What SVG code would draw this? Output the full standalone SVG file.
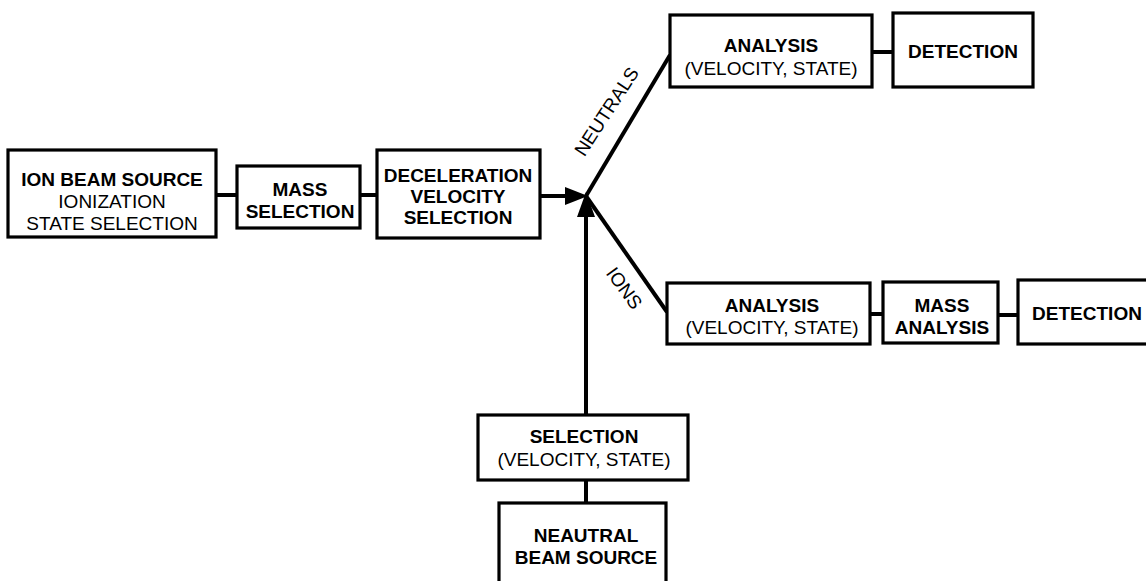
<svg xmlns="http://www.w3.org/2000/svg" width="1146" height="581" viewBox="0 0 1146 581">
<style>
  .box { fill: #fff; stroke: #000; stroke-width: 3.2; }
  .b { font-family: "Liberation Sans", Arial, sans-serif; font-size: 19px; font-weight: bold; text-anchor: middle; fill: #000; }
  .r { font-family: "Liberation Sans", Arial, sans-serif; font-size: 19px; text-anchor: middle; fill: #000; }
  .ln { stroke: #000; stroke-width: 4; fill: none; }
</style>
<rect width="1146" height="581" fill="#fff"/>
<g id="connectors">
  <line class="ln" x1="216" y1="195" x2="237" y2="195"/>
  <line class="ln" x1="360" y1="195" x2="377" y2="195"/>
  <line class="ln" x1="540" y1="196" x2="570" y2="196"/>
  <polygon points="588,196 565,187 565,205" fill="#000"/>
  <line class="ln" x1="586" y1="415" x2="586" y2="212"/>
  <polygon points="586,192 577,217 595,217" fill="#000"/>
  <line class="ln" x1="586" y1="480" x2="586" y2="503"/>
  <line class="ln" x1="586" y1="196" x2="670" y2="55"/>
  <line class="ln" x1="586" y1="196" x2="667" y2="312"/>
  <line class="ln" x1="872" y1="52" x2="893" y2="52"/>
  <line class="ln" x1="870" y1="314" x2="883" y2="314"/>
  <line class="ln" x1="998" y1="315" x2="1018" y2="315"/>
  <text class="r" transform="rotate(-57 612 115)" x="612" y="115">NEUTRALS</text>
  <text class="r" transform="rotate(54 619 292)" x="619" y="292">IONS</text>
</g>
<g id="ion-beam-source">
  <rect class="box" x="8" y="150" width="208" height="87"/>
  <text class="b" x="112" y="186">ION BEAM SOURCE</text>
  <text class="r" x="112" y="208">IONIZATION</text>
  <text class="r" x="112" y="230">STATE SELECTION</text>
</g>
<g id="mass-selection">
  <rect class="box" x="237" y="166" width="123" height="62"/>
  <text class="b" x="300" y="196">MASS</text>
  <text class="b" x="300" y="218">SELECTION</text>
</g>
<g id="deceleration">
  <rect class="box" x="377" y="150" width="163" height="88"/>
  <text class="b" x="458" y="182">DECELERATION</text>
  <text class="b" x="458" y="203">VELOCITY</text>
  <text class="b" x="458" y="224">SELECTION</text>
</g>
<g id="analysis-neutrals">
  <rect class="box" x="670" y="15" width="202" height="72"/>
  <text class="b" x="771" y="52">ANALYSIS</text>
  <text class="r" x="771" y="75">(VELOCITY, STATE)</text>
</g>
<g id="detection-neutrals">
  <rect class="box" x="893" y="13" width="140" height="74"/>
  <text class="b" x="963" y="58">DETECTION</text>
</g>
<g id="analysis-ions">
  <rect class="box" x="667" y="283" width="203" height="61"/>
  <text class="b" x="772" y="312">ANALYSIS</text>
  <text class="r" x="772" y="334">(VELOCITY, STATE)</text>
</g>
<g id="mass-analysis">
  <rect class="box" x="883" y="282" width="115" height="61"/>
  <text class="b" x="942" y="312">MASS</text>
  <text class="b" x="942" y="334">ANALYSIS</text>
</g>
<g id="detection-ions">
  <rect class="box" x="1018" y="280" width="140" height="64"/>
  <text class="b" x="1087" y="320">DETECTION</text>
</g>
<g id="selection">
  <rect class="box" x="478" y="415" width="210" height="65"/>
  <text class="b" x="584" y="443">SELECTION</text>
  <text class="r" x="584" y="466">(VELOCITY, STATE)</text>
</g>
<g id="neutral-beam-source">
  <rect class="box" x="499" y="503" width="167" height="90"/>
  <text class="b" x="586" y="542">NEAUTRAL</text>
  <text class="b" x="586" y="564">BEAM SOURCE</text>
</g>
</svg>
